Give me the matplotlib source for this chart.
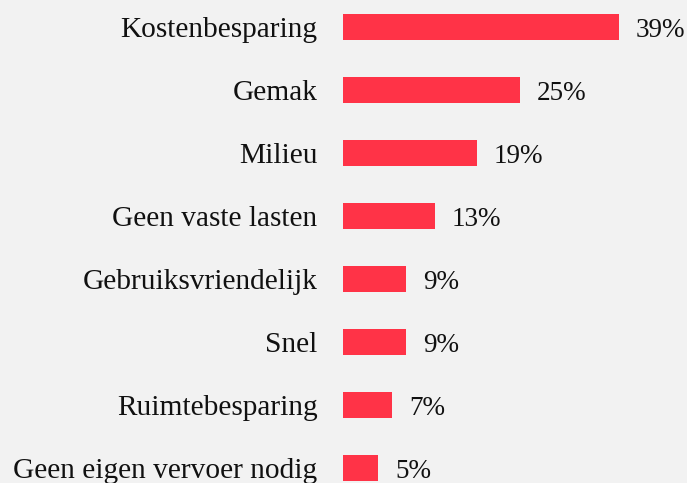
import matplotlib
matplotlib.use("Agg")
import matplotlib.pyplot as plt

# redenen (van boven naar beneden)
categories = ["Kostenbesparing", "Gemak", "Milieu", "Geen vaste lasten",
              "Gebruiksvriendelijk", "Snel", "Ruimtebesparing", "Geen eigen vervoer nodig"]
values = [39, 25, 19, 13, 9, 9, 7, 5]

bg = "#f2f2f2"
red = "#ff3347"

plt.rcParams['font.family'] = ['Liberation Serif', 'DejaVu Serif']

fig = plt.figure(figsize=(6.87, 4.83), dpi=100, facecolor=bg)
ax = fig.add_axes([342.5 / 687, 0, 1 - 342.5 / 687, 1])
ax.set_facecolor(bg)

pos = list(range(len(categories)))
ax.barh(pos, values, height=0.41, color=red)

# percentages rechts naast de balk
for y, v in zip(pos, values):
    ax.annotate(f"{v}%", (v, y), xytext=(17, 0), textcoords="offset pixels",
                va="center_baseline", ha="left", fontsize=19.5, color="#111111")

ax.set_xlim(0, 344.5 / 7.08)
ax.set_ylim(7.238, -0.4286)
ax.set_yticks(pos)
ax.set_yticklabels(categories, fontsize=21.2, color="#111111")
ax.tick_params(axis="y", length=0, pad=18)
ax.set_xticks([])
for s in ax.spines.values():
    s.set_visible(False)

fig.savefig("out.png", dpi=100, facecolor=bg)
